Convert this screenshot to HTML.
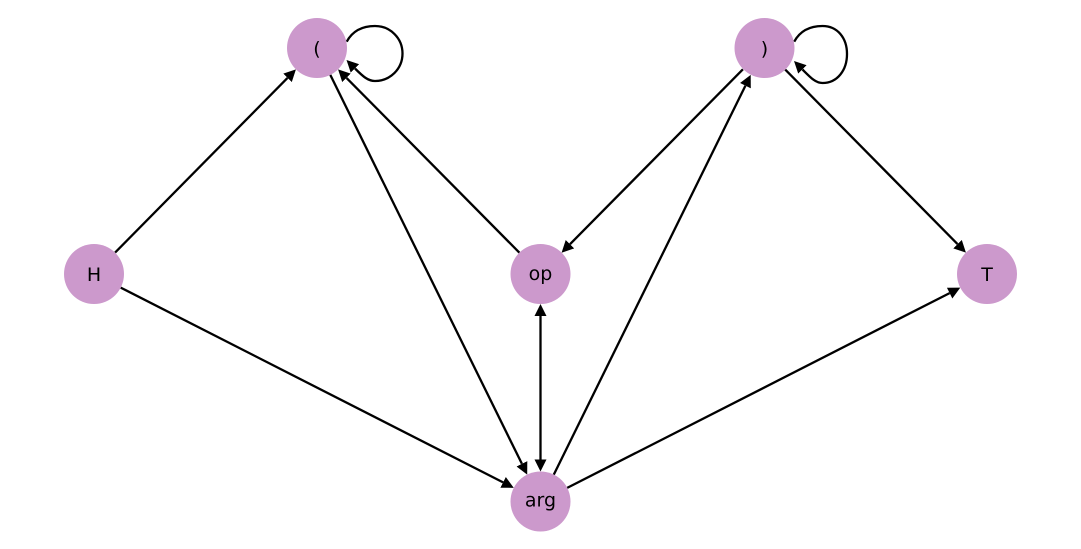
<!DOCTYPE html>
<html>
<head>
<meta charset="utf-8">
<style>
  html, body { margin: 0; padding: 0; background: #ffffff; }
  body { width: 1081px; height: 549px; overflow: hidden; }
  svg { display: block; }
  text { font-family: "DejaVu Sans", "Liberation Sans", sans-serif; font-size: 19px; fill: #000; }
</style>
</head>
<body>
<svg width="1081" height="549" viewBox="0 0 1081 549" xmlns="http://www.w3.org/2000/svg">
  <defs>
    <marker id="ah" markerUnits="userSpaceOnUse" markerWidth="14" markerHeight="14" refX="0" refY="7" orient="auto" viewBox="0 0 14 14">
      <path d="M0,1 L12,7 L0,13 z" fill="#000"/>
    </marker>
    <marker id="ahs" markerUnits="userSpaceOnUse" markerWidth="14" markerHeight="14" refX="0" refY="7" orient="auto-start-reverse" viewBox="0 0 14 14">
      <path d="M0,1 L12,7 L0,13 z" fill="#000"/>
    </marker>
  </defs>

  <g stroke="#000" stroke-width="2.3" fill="none">
    <line x1="115.1" y1="252.6" x2="287.5" y2="77.9" marker-end="url(#ah)"/>
    <line x1="330.3" y1="74.9" x2="521.9" y2="463.8" marker-end="url(#ah)"/>
    <line x1="519.4" y1="252.7" x2="346.5" y2="77.9" marker-end="url(#ah)"/>
    <line x1="742.9" y1="69.3" x2="570.0" y2="244.2" marker-end="url(#ah)"/>
    <line x1="553.8" y1="474.6" x2="745.4" y2="85.7" marker-end="url(#ah)"/>
    <line x1="785.1" y1="69.4" x2="957.5" y2="244.1" marker-end="url(#ah)"/>
    <line x1="120.7" y1="287.6" x2="503.1" y2="482.4" marker-end="url(#ah)"/>
    <line x1="567.2" y1="487.9" x2="949.6" y2="293.1" marker-end="url(#ah)"/>
    <line x1="540.5" y1="316" x2="540.5" y2="459.5" marker-start="url(#ahs)" marker-end="url(#ah)"/>

    <path d="M346.7,41.7 C353,30 363,26 375,26 C390,26 402.5,38 402.5,53.5 C402.5,69 390,81 375,81 C368,81 363,76.5 355,68.5" marker-end="url(#ah)"/>
    <path d="M794.2,41.7 C800.5,30 810.5,26 822.5,26 C837.5,26 847,38 847,54 C847,70 837.5,83 822.5,83 C815.5,83 810.5,77.5 802.5,69.5" marker-end="url(#ah)"/>
  </g>

  <g fill="#cc99cc">
    <circle cx="317" cy="48" r="30"/>
    <circle cx="764.5" cy="48" r="30"/>
    <circle cx="94" cy="274" r="30"/>
    <circle cx="540.5" cy="274" r="30"/>
    <circle cx="987" cy="274" r="30"/>
    <circle cx="540.5" cy="501.5" r="30"/>
  </g>

  <g text-anchor="middle">
    <text x="317" y="55">(</text>
    <text x="764.5" y="55">)</text>
    <text x="94" y="281">H</text>
    <text x="540.5" y="280">op</text>
    <text x="987" y="281">T</text>
    <text x="540.5" y="506.5">arg</text>
  </g>
</svg>
</body>
</html>
